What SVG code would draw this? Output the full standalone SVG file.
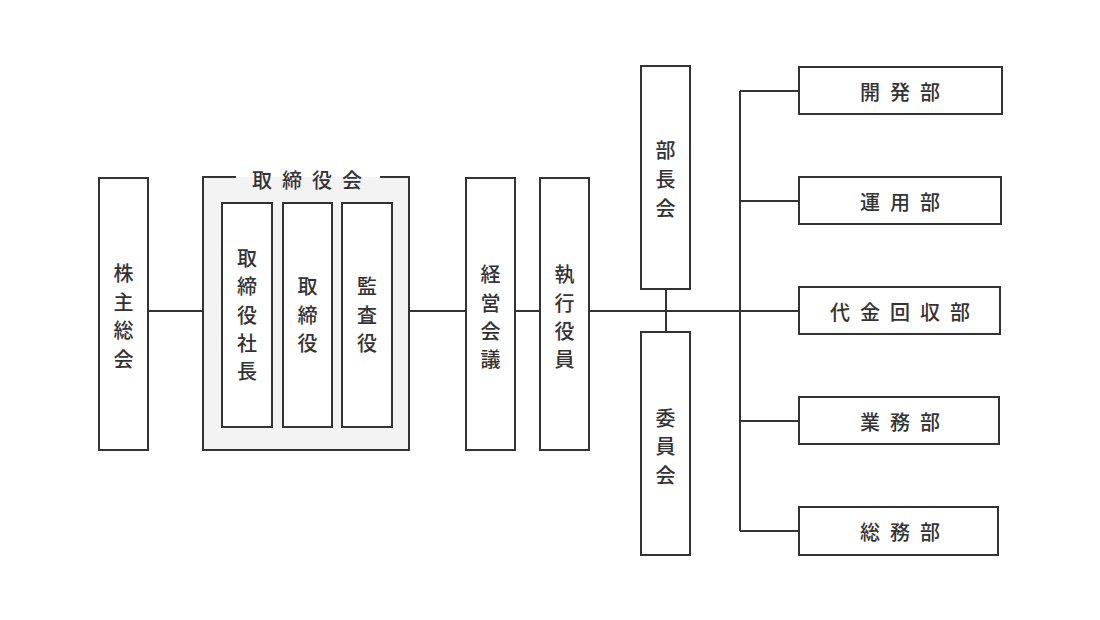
<svg xmlns="http://www.w3.org/2000/svg" width="1100" height="620" viewBox="0 0 1100 620">
<style>
.box{fill:#fff;stroke:#333;stroke-width:2}
.grp{fill:#f3f3f3;stroke:none}
.ln{fill:none;stroke:#333;stroke-width:2}
.t{font-family:"Noto Sans CJK JP","Noto Sans",sans-serif;font-size:20px;font-weight:500;fill:#333;text-anchor:middle;dominant-baseline:central}
.h{letter-spacing:10px}
</style>
<rect width="1100" height="620" fill="#fff"/>
<g id="connectors">
<path class="ln" d="M148 311H203M409 311H466M515 311H540M589 311H799M666 289V332M740 91V531M740 91H799M740 201H799M740 421H799M740 531H799"/>
</g>
<g id="kabunushi">
<rect class="box" x="99" y="178" width="49" height="272"/>
<text class="t"><tspan x="123.5" y="272">株</tspan><tspan x="123.5" y="300.5">主</tspan><tspan x="123.5" y="329">総</tspan><tspan x="123.5" y="357.5">会</tspan></text>
</g>
<g id="torishimariyakukai">
<rect class="grp" x="203" y="177" width="206" height="273"/>
<path class="ln" d="M236 177H203V450H409V177H380"/>
<text class="t h" x="312" y="179">取締役会</text>
</g>
<g id="shacho">
<rect class="box" x="222" y="203" width="50" height="224"/>
<text class="t"><tspan x="247" y="257">取</tspan><tspan x="247" y="285">締</tspan><tspan x="247" y="313.5">役</tspan><tspan x="247" y="342">社</tspan><tspan x="247" y="370">長</tspan></text>
</g>
<g id="torishimariyaku">
<rect class="box" x="283" y="203" width="49" height="224"/>
<text class="t"><tspan x="307.5" y="285">取</tspan><tspan x="307.5" y="313.5">締</tspan><tspan x="307.5" y="342">役</tspan></text>
</g>
<g id="kansayaku">
<rect class="box" x="342" y="203" width="50" height="224"/>
<text class="t"><tspan x="367" y="285">監</tspan><tspan x="367" y="313.5">査</tspan><tspan x="367" y="342">役</tspan></text>
</g>
<g id="keiei">
<rect class="box" x="466" y="178" width="49" height="272"/>
<text class="t"><tspan x="490.5" y="273">経</tspan><tspan x="490.5" y="301.5">営</tspan><tspan x="490.5" y="330">会</tspan><tspan x="490.5" y="358">議</tspan></text>
</g>
<g id="shikko">
<rect class="box" x="540" y="178" width="49" height="272"/>
<text class="t"><tspan x="564.5" y="273">執</tspan><tspan x="564.5" y="301.5">行</tspan><tspan x="564.5" y="330">役</tspan><tspan x="564.5" y="358">員</tspan></text>
</g>
<g id="buchokai">
<rect class="box" x="641" y="66" width="49" height="223"/>
<text class="t"><tspan x="665.5" y="149">部</tspan><tspan x="665.5" y="178">長</tspan><tspan x="665.5" y="206.5">会</tspan></text>
</g>
<g id="iinkai">
<rect class="box" x="641" y="332" width="49" height="223"/>
<text class="t"><tspan x="665.5" y="416.5">委</tspan><tspan x="665.5" y="445">員</tspan><tspan x="665.5" y="473.5">会</tspan></text>
</g>
<g id="kaihatsu">
<rect class="box" x="799" y="67" width="203" height="47"/>
<text class="t h" x="905" y="91">開発部</text>
</g>
<g id="unyo">
<rect class="box" x="799" y="177" width="202" height="47"/>
<text class="t h" x="905" y="201">運用部</text>
</g>
<g id="daikin">
<rect class="box" x="799" y="287" width="201" height="47"/>
<text class="t h" x="905" y="311">代金回収部</text>
</g>
<g id="gyomu">
<rect class="box" x="799" y="397" width="200" height="47"/>
<text class="t h" x="905" y="421">業務部</text>
</g>
<g id="somu">
<rect class="box" x="799" y="507" width="199" height="48"/>
<text class="t h" x="905" y="531">総務部</text>
</g>
</svg>
